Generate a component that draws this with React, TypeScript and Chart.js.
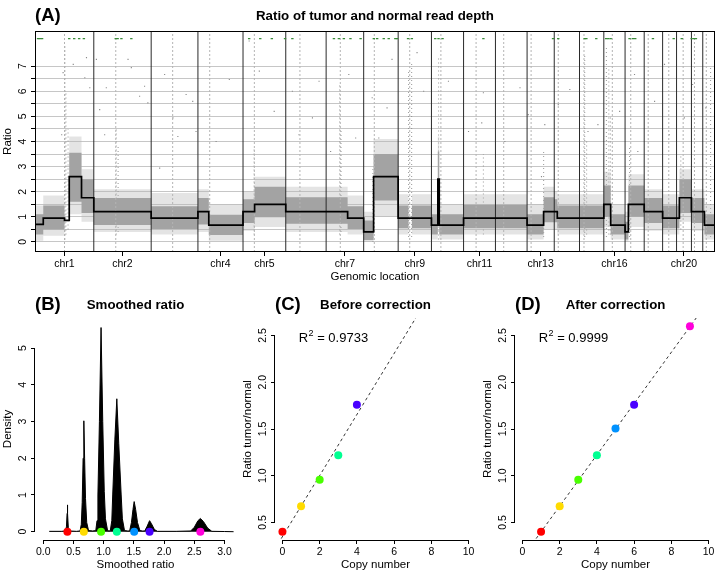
import React, { useEffect, useRef } from 'react';
import { Chart, registerables } from 'chart.js';

Chart.register(...registerables);

const FONT = '"Liberation Sans", Arial, Helvetica, sans-serif';
Chart.defaults.font.family = FONT;
Chart.defaults.color = '#000';

const TICK_FONT = { family: FONT, size: 10.5 };
const LAB_FONT = { family: FONT, size: 11.5 };

// ---------------- Panel A: genome-wide ratio ----------------
const chromNames = ['chr1', 'chr2', 'chr3', 'chr4', 'chr5', 'chr6', 'chr7', 'chr8', 'chr9', 'chr10', 'chr11', 'chr12', 'chr13', 'chr14', 'chr15', 'chr16', 'chr17', 'chr18', 'chr19', 'chr20', 'chr21', 'chr22'];
const chromLengthMb = [249, 243, 198, 191, 181, 171, 159, 146, 141, 136, 135, 134, 115, 107, 103, 90, 81, 78, 59, 63, 48, 51];
const centromereMb = [125, 93, 91, 50, 48, 60, 60, 45, 49, 40, 53, 35, 17, 17, 19, 36, 24, 17, 26, 28, 13, 15];
const labelledChroms = ['chr1', 'chr2', 'chr4', 'chr5', 'chr7', 'chr9', 'chr11', 'chr13', 'chr16', 'chr20'];
const ratioTicks = [0, 0.5, 1, 1.5, 2, 2.5, 3, 3.5, 4, 4.5, 5, 5.5, 6, 6.5, 7];
const ratioMin = -0.4;
const ratioMax = 8.4;

// segmented (smoothed) ratio along the genome, genomic position in Mb
const segStartMb = [0, 35, 125, 145, 197, 249, 492, 690, 736, 881, 930, 1062, 1233, 1324, 1392, 1434, 1538, 1582, 1596, 1679, 1706, 1712, 1815, 1950, 2084, 2154, 2199, 2212, 2306, 2409, 2438, 2499, 2513, 2580, 2658, 2717, 2729, 2780, 2828, 2835];
const segEndMb = [35, 125, 145, 197, 249, 492, 690, 736, 881, 930, 1062, 1233, 1324, 1392, 1434, 1538, 1582, 1596, 1679, 1706, 1712, 1815, 1950, 2084, 2154, 2199, 2212, 2306, 2409, 2438, 2499, 2513, 2580, 2658, 2717, 2729, 2780, 2828, 2835, 2879];
const segRatio = [0.70, 0.95, 0.86, 2.60, 1.76, 1.21, 0.95, 1.21, 0.67, 1.21, 1.50, 1.21, 1.21, 0.95, 0.40, 2.60, 0.95, 0.95, 0.95, 0.67, 2.50, 0.67, 0.95, 0.95, 0.67, 1.21, 1.21, 0.95, 0.95, 1.50, 0.67, 0.40, 1.50, 1.21, 0.95, 0.95, 1.76, 1.21, 1.21, 0.67];
// dense cloud of raw ratios around each segment
const bandLow = [0.30, 0.50, 0.86, 1.60, 1.15, 0.68, 0.52, 0.70, 0.28, 0.75, 0.98, 0.72, 0.72, 0.52, 0.08, 1.65, 0.55, 0.95, 0.55, 0.30, 1.50, 0.30, 0.55, 0.55, 0.30, 0.78, 0.78, 0.55, 0.55, 1.00, 0.30, 0.10, 1.00, 0.75, 0.55, 0.55, 1.15, 0.75, 0.75, 0.30];
const bandHigh = [1.10, 1.45, 0.86, 3.55, 2.50, 1.75, 1.42, 1.75, 1.08, 1.70, 2.20, 1.78, 1.78, 1.42, 0.85, 3.50, 1.45, 0.95, 1.45, 1.10, 3.60, 1.10, 1.48, 1.48, 1.10, 1.78, 1.70, 1.45, 1.45, 2.25, 1.10, 0.80, 2.25, 1.75, 1.45, 1.45, 2.50, 1.75, 1.75, 1.10];
// sparse fringe of raw ratios
const haloLow = [0.05, 0.25, 0.86, 1.10, 0.80, 0.40, 0.30, 0.40, 0.05, 0.45, 0.60, 0.40, 0.40, 0.30, 0.00, 1.00, 0.30, 0.95, 0.30, 0.10, 1.00, 0.10, 0.30, 0.30, 0.10, 0.50, 0.50, 0.30, 0.30, 0.60, 0.10, 0.00, 0.60, 0.45, 0.30, 0.30, 0.80, 0.45, 0.45, 0.10];
const haloHigh = [1.45, 1.85, 0.86, 4.20, 2.90, 2.10, 1.95, 2.10, 1.50, 2.00, 2.60, 2.20, 2.20, 1.85, 1.20, 4.10, 1.90, 0.95, 1.90, 1.50, 4.20, 1.50, 1.90, 1.90, 1.50, 2.20, 2.00, 1.90, 1.90, 2.80, 1.50, 1.20, 2.70, 2.10, 1.90, 1.90, 2.90, 2.10, 2.10, 1.50];
// vertical streaks of scattered high ratios
const streakMb = [127, 131, 140, 344, 352, 928, 1290, 1296, 1431, 1582, 1595, 1709, 1899, 2154, 2328, 2336, 2420, 2430, 2437, 2518, 2735, 2861];
const streakLow = [0.1, 0.3, 0.5, 0.3, 0.4, 0.3, 0.3, 0.4, 0.0, 0.2, 0.2, 0.1, 0.3, 0.2, 0.2, 0.3, 0.2, 0.3, 0.3, 0.2, 0.5, 0.2];
const streakHigh = [7.9, 6.0, 4.5, 4.6, 3.8, 3.8, 6.3, 4.5, 3.0, 6.8, 7.2, 7.4, 3.5, 3.6, 7.4, 4.0, 7.8, 7.0, 5.0, 3.8, 3.5, 7.0];
// isolated outlying ratios
const outlierMb = [119, 113, 162, 218, 211, 232, 260, 274, 295, 302, 394, 408, 443, 464, 478, 528, 549, 584, 605, 640, 668, 682, 823, 767, 907, 950, 1013, 1090, 1118, 1175, 1203, 1252, 1329, 1358, 1428, 1512, 1491, 1456, 1618, 1646, 1751, 1836, 1899, 1892, 1990, 2054, 2089, 2145, 2265, 2159, 2216, 2342, 2384, 2476, 2539, 2553, 2624, 2666, 2687, 2750, 2785, 2841];
const outlierRatio = [6.74, 4.27, 7.07, 7.34, 6.54, 6.14, 7.27, 5.27, 4.27, 6.14, 7.27, 6.94, 5.8, 6.2, 5.54, 2.94, 6.67, 4.94, 4.2, 5.87, 5.6, 4.4, 6.47, 4.0, 8.0, 6.8, 5.2, 6.0, 4.27, 4.94, 6.4, 3.6, 6.67, 4.14, 5.74, 7.27, 5.34, 4.14, 7.54, 6.0, 6.4, 4.4, 5.94, 4.74, 4.0, 6.14, 5.07, 2.6, 6.07, 4.67, 5.47, 4.4, 4.67, 5.2, 6.67, 3.6, 5.6, 7.07, 4.27, 4.94, 6.27, 5.34];
// green markers along the top
const markMb = [13, 21, 30, 145, 166, 187, 207, 342, 350, 366, 408, 907, 954, 1003, 1059, 1090, 1266, 1287, 1308, 1336, 1379, 1435, 1449, 1477, 1498, 1526, 1533, 1580, 1596, 1695, 1709, 1726, 1899, 2194, 2216, 2328, 2335, 2377, 2419, 2428, 2438, 2518, 2532, 2542, 2617, 2705, 2739, 2781, 2791, 2799];
const markRatio = 8.1;

// ---------------- Panel B: smoothed ratio density ----------------
const densityX = [0.10, 0.30, 0.37, 0.385, 0.395, 0.40, 0.405, 0.415, 0.43, 0.55, 0.61, 0.63, 0.645, 0.66, 0.672, 0.685, 0.70, 0.72, 0.75, 0.82, 0.87, 0.89, 0.905, 0.93, 0.957, 0.985, 1.01, 1.03, 1.065, 1.09, 1.11, 1.135, 1.15, 1.185, 1.218, 1.25, 1.29, 1.31, 1.345, 1.40, 1.43, 1.46, 1.485, 1.505, 1.53, 1.56, 1.60, 1.64, 1.68, 1.72, 1.76, 1.79, 1.84, 1.89, 2.2, 2.44, 2.50, 2.56, 2.60, 2.65, 2.72, 2.79, 3.0, 3.15];
const densityY = [0.01, 0.01, 0.02, 0.15, 0.5, 0.73, 0.5, 0.12, 0.02, 0.01, 0.02, 0.2, 0.8, 2.0, 3.02, 2.0, 0.9, 0.25, 0.03, 0.02, 0.03, 0.3, 1.0, 3.0, 5.56, 3.0, 1.1, 0.35, 0.03, 0.02, 0.03, 0.3, 1.0, 2.5, 3.62, 2.4, 1.0, 0.35, 0.03, 0.02, 0.02, 0.25, 0.6, 0.82, 0.6, 0.25, 0.03, 0.02, 0.02, 0.15, 0.3, 0.22, 0.06, 0.01, 0.01, 0.02, 0.12, 0.3, 0.36, 0.28, 0.1, 0.01, 0.005, 0.0];
const peakRatio = [0.40, 0.672, 0.957, 1.218, 1.505, 1.76, 2.60];
const peakColors = ['#FF0000', '#FFDB00', '#49FF00', '#00FF92', '#0092FF', '#4900FF', '#FF00DB'];
const smoothTicksX = [0, 0.5, 1, 1.5, 2, 2.5, 3];
const densityTicks = [0, 1, 2, 3, 4, 5];

// ---------------- Panels C & D: ratio vs copy number ----------------
const copyBefore: (number | null)[] = [0, 1, 2, 3, null, 4, null];
const copyAfter: (number | null)[] = [1, 2, 3, 4, 5, 6, 9];
const r2Before = '0.9733';
const r2After = '0.9999';
const copyTicks = [0, 2, 4, 6, 8, 10];
const ratioTicksCD = [0.5, 1.0, 1.5, 2.0, 2.5];

// ---------------- helpers ----------------
function linearFit(xs: number[], ys: number[]) {
  const n = xs.length;
  const mx = xs.reduce((s, v) => s + v, 0) / n;
  const my = ys.reduce((s, v) => s + v, 0) / n;
  let sxy = 0, sxx = 0;
  for (let i = 0; i < n; i++) { sxy += (xs[i] - mx) * (ys[i] - my); sxx += (xs[i] - mx) ** 2; }
  const b = sxy / sxx;
  return { a: my - b * mx, b };
}

function titlePlugin(tag: string, title: string, y: number) {
  return {
    id: 'panelTitle',
    afterDraw(chart: any) {
      const { ctx, chartArea } = chart;
      ctx.save();
      ctx.fillStyle = '#000';
      ctx.textBaseline = 'middle';
      ctx.font = `bold 18.5px ${FONT}`;
      ctx.textAlign = 'left';
      ctx.fillText(tag, 35, y);
      ctx.font = `bold 13.3px ${FONT}`;
      ctx.textAlign = 'center';
      ctx.fillText(title, (chartArea.left + chartArea.right) / 2, y);
      ctx.restore();
    },
  };
}

const boxPlugin = {
  id: 'rbox',
  afterDatasetsDraw(chart: any) {
    const { ctx, chartArea: a } = chart;
    ctx.save();
    ctx.strokeStyle = '#000';
    ctx.lineWidth = 1;
    ctx.strokeRect(Math.round(a.left) + 0.5, Math.round(a.top) + 0.5, Math.round(a.right - a.left) - 1, Math.round(a.bottom - a.top) - 1);
    ctx.restore();
  },
};

const rAxisPlugin = {
  id: 'raxis',
  afterDraw(chart: any) {
    const { ctx, chartArea: a, scales } = chart;
    const xs = scales.x, ys = scales.y;
    const xt = xs.ticks, yt = ys.ticks;
    ctx.save();
    ctx.strokeStyle = '#000';
    ctx.lineWidth = 1;
    ctx.beginPath();
    const by = Math.round(a.bottom) + 0.5;
    ctx.moveTo(xs.getPixelForValue(xt[0].value), by);
    ctx.lineTo(xs.getPixelForValue(xt[xt.length - 1].value), by);
    const lx = Math.round(a.left) - 0.5;
    ctx.moveTo(lx, ys.getPixelForValue(yt[0].value));
    ctx.lineTo(lx, ys.getPixelForValue(yt[yt.length - 1].value));
    ctx.stroke();
    ctx.restore();
  },
};

function r2Plugin(value: string, dx: number, dy: number) {
  return {
    id: 'r2text',
    afterDraw(chart: any) {
      const { ctx, scales } = chart;
      const x = scales.x.getPixelForValue(dx);
      const y = scales.y.getPixelForValue(dy);
      ctx.save();
      ctx.fillStyle = '#000';
      ctx.textBaseline = 'alphabetic';
      ctx.textAlign = 'left';
      ctx.font = `13px ${FONT}`;
      ctx.fillText('R', x, y + 5);
      const w = ctx.measureText('R').width;
      ctx.font = `9px ${FONT}`;
      ctx.fillText('2', x + w + 0.5, y - 1);
      const w2 = ctx.measureText('2').width;
      ctx.font = `13px ${FONT}`;
      ctx.fillText(' = ' + value, x + w + w2 + 0.5, y + 5);
      ctx.restore();
    },
  };
}

function scaleX(min: number, max: number, ticks: number[], fmt: (v: number) => string, title: string, height: number, gridOnArea = false) {
  return {
    type: 'linear', min, max,
    afterBuildTicks: (s: any) => { s.ticks = ticks.map((v) => ({ value: v })); },
    afterFit: (s: any) => { s.height = height; },
    grid: { display: true, drawOnChartArea: gridOnArea, drawTicks: true, tickLength: 4, tickColor: '#000', tickWidth: 1 },
    border: { display: false },
    ticks: { autoSkip: false, maxRotation: 0, minRotation: 0, padding: 2, color: '#000', font: TICK_FONT, callback: (v: any) => fmt(Number(v)) },
    title: { display: true, text: title, color: '#000', font: LAB_FONT, padding: { top: 0, bottom: height > 34 ? 4 : 1 } },
  };
}

function scaleY(min: number, max: number, ticks: number[], fmt: (v: number) => string, title: string, width: number, labelPad: number, gridColor: string | null = null) {
  return {
    type: 'linear', min, max,
    afterBuildTicks: (s: any) => { s.ticks = ticks.map((v) => ({ value: v })); },
    afterFit: (s: any) => { s.width = width; },
    grid: { display: true, drawOnChartArea: !!gridColor, color: gridColor || '#000', lineWidth: 1, drawTicks: true, tickLength: 4, tickColor: '#000', tickWidth: 1 },
    border: { display: false },
    ticks: { autoSkip: false, minRotation: 90, maxRotation: 90, crossAlign: 'center', padding: labelPad, color: '#000', font: TICK_FONT, callback: (v: any) => fmt(Number(v)) },
    title: { display: true, text: title, color: '#000', font: LAB_FONT, padding: { top: 1, bottom: 0 } },
  };
}

const baseOptions = {
  animation: false,
  responsive: false,
  devicePixelRatio: 1,
  events: [],
  plugins: { legend: { display: false }, tooltip: { enabled: false } },
  elements: { line: { tension: 0 }, point: { radius: 0 } },
};

// ---------------- chart configs ----------------
function makePanelA(): any {
  const chromStart = chromLengthMb.map((_, i) => chromLengthMb.slice(0, i).reduce((s, v) => s + v, 0));
  const genomeEnd = chromLengthMb.reduce((s, v) => s + v, 0);
  const step = (vals: number[]) => {
    const pts: any[] = [];
    segStartMb.forEach((s, i) => { pts.push({ x: s, y: vals[i] }, { x: segEndMb[i], y: vals[i] }); });
    return pts;
  };
  const vlines = (xs: number[]) => {
    const pts: any[] = [];
    xs.forEach((x) => { pts.push({ x, y: ratioMin }, { x, y: ratioMax }, { x, y: null }); });
    return pts;
  };
  const boundaries = vlines(chromStart.slice(1));
  const cents = vlines(centromereMb.map((c, i) => chromStart[i] + c));
  const streaks: any[] = [];
  streakMb.forEach((x, i) => { streaks.push({ x, y: streakLow[i] }, { x, y: streakHigh[i] }, { x, y: null }); });
  const outliers = outlierMb.map((x, i) => ({ x, y: outlierRatio[i] })).sort((p, q) => p.x - q.x);
  const labelCenters = labelledChroms.map((n) => {
    const i = chromNames.indexOf(n);
    return chromStart[i] + chromLengthMb[i] / 2;
  });
  const centerName = (v: number) => {
    const k = labelCenters.findIndex((c) => Math.abs(c - v) < 0.01);
    return k >= 0 ? labelledChroms[k] : '';
  };
  return {
    type: 'line',
    data: {
      datasets: [
        { data: step(segRatio), borderColor: '#000', borderWidth: 1.7, pointRadius: 0, fill: false },
        { data: markMb.map((x) => ({ x, y: markRatio })), showLine: false, pointStyle: 'line', pointRadius: 1.2, pointBorderWidth: 1.2, pointBorderColor: '#3a8a3a', pointBackgroundColor: '#3a8a3a' },
        { data: boundaries, borderColor: '#2a2a2a', borderWidth: 1, pointRadius: 0, fill: false, spanGaps: false },
        { data: cents, borderColor: '#b4b4b4', borderWidth: 1, borderDash: [2, 2], pointRadius: 0, fill: false, spanGaps: false },
        { data: outliers, showLine: false, pointStyle: 'rect', pointRadius: 0.8, pointBorderWidth: 0, pointBackgroundColor: '#8a8a8a' },
        { data: step(bandLow), borderColor: 'rgba(0,0,0,0)', borderWidth: 0, pointRadius: 0, fill: false },
        { data: step(bandHigh), borderColor: 'rgba(0,0,0,0)', borderWidth: 0, pointRadius: 0, fill: '-1', backgroundColor: '#a3a3a3' },
        { data: step(haloLow), borderColor: 'rgba(0,0,0,0)', borderWidth: 0, pointRadius: 0, fill: false },
        { data: step(haloHigh), borderColor: 'rgba(0,0,0,0)', borderWidth: 0, pointRadius: 0, fill: '-1', backgroundColor: 'rgba(185,185,185,0.38)' },
        { data: streaks, borderColor: 'rgba(130,130,130,0.75)', borderWidth: 1.1, borderDash: [1, 3], pointRadius: 0, fill: false, spanGaps: false },
      ],
    },
    options: {
      ...baseOptions,
      layout: { padding: { left: 0, top: 31, right: 3, bottom: 0 } },
      scales: {
        x: scaleX(0, genomeEnd, labelCenters, centerName, 'Genomic location', 33),
        y: scaleY(ratioMin, ratioMax, ratioTicks, (v) => (Number.isInteger(v) ? String(v) : ''), 'Ratio', 35, 4.8, '#c6c6c6'),
      },
    },
    plugins: [boxPlugin, titlePlugin('(A)', 'Ratio of tumor and normal read depth', 16)],
  };
}

function makePanelB(): any {
  return {
    type: 'line',
    data: {
      datasets: [
        { data: peakRatio.map((x) => ({ x, y: 0 })), showLine: false, pointRadius: 4, pointBorderWidth: 0, pointBackgroundColor: peakColors, pointBorderColor: peakColors },
        { data: densityX.map((x, i) => ({ x, y: densityY[i] })), borderColor: '#000', borderWidth: 1, backgroundColor: '#000', fill: 'origin', pointRadius: 0 },
      ],
    },
    options: {
      ...baseOptions,
      layout: { padding: { left: 0, top: 33, right: 2, bottom: 0 } },
      scales: {
        x: scaleX(-0.136, 3.19, smoothTicksX, (v) => v.toFixed(1), 'Smoothed ratio', 36),
        y: scaleY(-0.226, 5.82, densityTicks, (v) => String(v), 'Density', 35, 4.8),
      },
    },
    plugins: [rAxisPlugin, titlePlugin('(B)', 'Smoothed ratio', 20)],
  };
}

function makeCopyPanel(copies: (number | null)[], tag: string, title: string, r2: string): any {
  const idx = copies.map((c, i) => (c === null ? -1 : i)).filter((i) => i >= 0);
  const xs = idx.map((i) => copies[i] as number);
  const ys = idx.map((i) => peakRatio[i]);
  const fit = linearFit(xs, ys);
  const xMin = -0.4, xMax = 10.4;
  return {
    type: 'line',
    data: {
      datasets: [
        { data: xs.map((x, k) => ({ x, y: ys[k] })), showLine: false, pointRadius: 4, pointBorderWidth: 0, pointBackgroundColor: idx.map((i) => peakColors[i]), pointBorderColor: idx.map((i) => peakColors[i]) },
        { data: [{ x: xMin, y: fit.a + fit.b * xMin }, { x: xMax, y: fit.a + fit.b * xMax }], borderColor: '#333', borderWidth: 1, borderDash: [3, 3], pointRadius: 0, fill: false },
      ],
    },
    options: {
      ...baseOptions,
      layout: { padding: { left: 0, top: 33, right: 3, bottom: 0 } },
      scales: {
        x: scaleX(xMin, xMax, copyTicks, (v) => String(v), 'Copy number', 36),
        y: scaleY(0.312, 2.688, ratioTicksCD, (v) => v.toFixed(1), 'Ratio tumor/normal', 35, 1.0),
      },
    },
    plugins: [rAxisPlugin, titlePlugin(tag, title, 20), r2Plugin(r2, 0.87, 2.49)],
  };
}

function ChartCanvas({ left, top, width, height, make }: { left: number; top: number; width: number; height: number; make: () => any }) {
  const ref = useRef<HTMLCanvasElement>(null);
  useEffect(() => {
    const chart = new Chart(ref.current as HTMLCanvasElement, make());
    return () => chart.destroy();
  }, []);
  return <canvas ref={ref} width={width} height={height} style={{ position: 'absolute', left, top, width, height }} />;
}

export default function App() {
  return (
    <div style={{ position: 'absolute', left: 0, top: 0, width: 720, height: 576, background: '#fff', overflow: 'hidden' }}>
      <ChartCanvas left={0} top={0} width={720} height={285} make={makePanelA} />
      <ChartCanvas left={0} top={285} width={240} height={291} make={makePanelB} />
      <ChartCanvas left={240} top={285} width={240} height={291} make={() => makeCopyPanel(copyBefore, '(C)', 'Before correction', r2Before)} />
      <ChartCanvas left={480} top={285} width={240} height={291} make={() => makeCopyPanel(copyAfter, '(D)', 'After correction', r2After)} />
    </div>
  );
}
